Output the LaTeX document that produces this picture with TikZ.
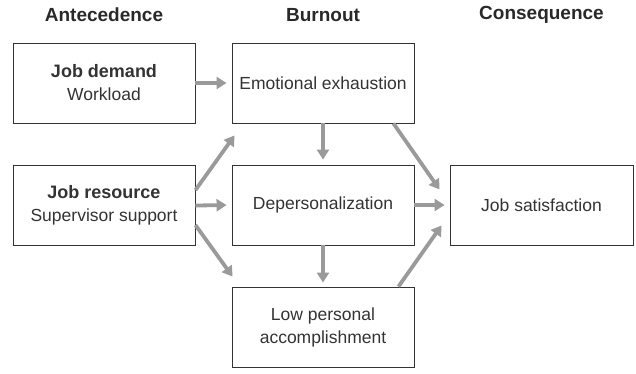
\documentclass[tikz,border=0pt]{standalone}
\usepackage{fontspec}
\setmainfont{Liberation Sans}
\usetikzlibrary{arrows.meta,calc}
\definecolor{arrowgray}{HTML}{9A9A9A}
\definecolor{textgray}{HTML}{333333}
\begin{document}
\begin{tikzpicture}[x=1pt,y=-1pt,
  box/.style={draw=textgray,line width=0.9pt,minimum width=182pt,minimum height=80pt,
    inner sep=0pt,align=center,text=textgray,font=\fontsize{17.5}{23}\selectfont},
  head/.style={font=\bfseries\fontsize{19}{23}\selectfont,text=textgray!80!black},
  conn/.style={draw=arrowgray,line width=3.8pt,-{Triangle[length=10pt,width=12pt]}},
  bl/.style={font=\bfseries\fontsize{18}{23}\selectfont}
]
\useasboundingbox (0,0) rectangle (636,373);
\node[head] (h1) at (104,15) {Antecedence};
\node[head] (h2) at (323,15) {Burnout};
\node[head] (h3) at (541.5,15) {Consequence};

\node[box] (jd) at (104,83) {{\bfseries\fontsize{18}{23}\selectfont Job demand}\\Workload};
\node[box] (ee) at (323,83) {Emotional exhaustion};
\node[box] (jr) at (104,205.5) {{\bfseries\fontsize{18}{23}\selectfont Job resource}\\Supervisor support};
\node[box] (dp) at (323,205) {Depersonalization};
\node[box] (lp) at (323,327) {Low personal\\accomplishment};
\node[box,minimum width=183pt] (js) at (541.5,205) {Job satisfaction};

\draw[conn,shorten >=5pt] (jd.east) -- (ee.west);
\draw[conn,shorten >=5pt] (jr.east) -- (dp.west);
\draw[conn,shorten >=5pt] (dp.east) -- (js.west);
\draw[conn,shorten >=5pt] (ee.south) -- (dp.north);
\draw[conn,shorten >=4pt] (dp.south) -- (lp.north);
\draw[conn] ($(jr.north east)+(0,25)$) -- ($(ee.south west)+(3,12)$);
\draw[conn] ($(jr.north east)+(0,60)$) -- ($(lp.north west)+(1,-10)$);
\draw[conn] ($(ee.south east)+(-21,0)$) -- ($(js.north west)+(-10,25)$);
\draw[conn] ($(lp.north east)+(-16,0)$) -- ($(js.south west)+(-8,-20)$);
\end{tikzpicture}
\end{document}
